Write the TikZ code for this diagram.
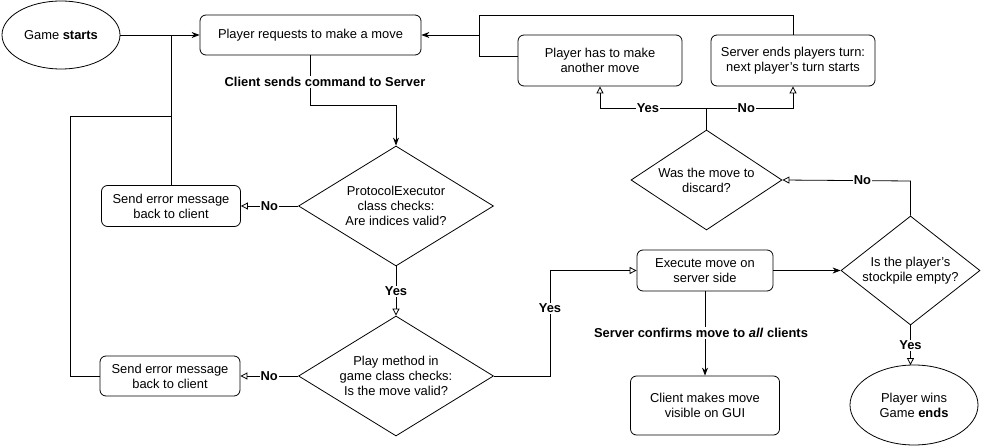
\documentclass[tikz,border=0pt]{standalone}
\usepackage{fontspec}
\setmainfont{Liberation Sans}
\usetikzlibrary{shapes.geometric,arrows.meta,calc}
\begin{document}
\begin{tikzpicture}[x=1pt,y=-1pt,
  every node/.style={font=\fontsize{12.9}{15}\selectfont},
  box/.style={draw, rounded corners=6pt, align=center, inner sep=1pt},
  ell/.style={draw, ellipse, align=center, inner sep=0pt},
  dia/.style={draw, diamond, align=center, inner sep=0pt},
  lbl/.style={fill=white, inner sep=1pt, font=\fontsize{12.9}{15}\selectfont\bfseries},
  fa/.style={-{Stealth[length=8pt,width=6pt]}},
  oa/.style={-{Triangle[open,length=7pt,width=7pt]}},
  line width=0.8pt]
\useasboundingbox (0,0) rectangle (981,446);

\node[ell, minimum width=118pt, minimum height=68pt] (start) at (61,35) {Game \textbf{starts}};
\node[box, minimum width=221pt, minimum height=40pt] (req) at (310.5,35) {Player requests to make a move};
\node[box, minimum width=164pt, minimum height=51pt] (another) at (600,60.5) {Player has to make\\another move};
\node[box, minimum width=164pt, minimum height=51pt] (ends) at (793,60.5) {Server ends players turn:\\next player's turn starts};
\node[dia, aspect=1.625, minimum width=195pt, minimum height=120pt] (d1) at (396,206) {ProtocolExecutor\\class checks:\\Are indices valid?};
\node[box, minimum width=139pt, minimum height=41pt] (err1) at (171,206) {Send error message\\back to client};
\node[dia, aspect=1.625, minimum width=195pt, minimum height=120pt] (d2) at (396,376) {Play method in\\game class checks:\\Is the move valid?};
\node[box, minimum width=140pt, minimum height=40pt] (err2) at (170,376) {Send error message\\back to client};
\node[dia, aspect=1.51, minimum width=151pt, minimum height=100pt] (d4) at (706.5,180) {Was the move to\\discard?};
\node[box, minimum width=136pt, minimum height=41pt] (exec) at (705,270.5) {Execute move on\\server side};
\node[dia, aspect=1.275, minimum width=139pt, minimum height=109pt] (d3) at (910.5,270.5) {Is the player's\\stockpile empty?};
\node[box, minimum width=149pt, minimum height=59pt] (client) at (705,405.5) {Client makes move\\visible on GUI};
\node[ell, minimum width=128pt, minimum height=80pt] (win) at (914,405) {Player wins\\Game \textbf{ends}};

% connectors
\coordinate (j1) at (171,35);
\coordinate (j2) at (171,116);
\coordinate (j3) at (70,116);
\coordinate (j4) at (70,376);
\draw[fa] (start.east) -- (req.west);
\draw (err1.north) -- (j1);
\draw (err2.west) -- (j4) -- (j3) -- (j2);

\coordinate (c1) at (310.5,105);
\coordinate (c2) at (396,105);
\draw[fa] (req.south) -- (c1) -- (c2) -- (d1.north);

\draw[oa] (d1.west) -- node[lbl]{No} (err1.east);
\draw[oa] (d1.south) -- node[lbl]{Yes} (d2.north);
\draw[oa] (d2.west) -- node[lbl]{No} (err2.east);

\coordinate (y1) at (550,376);
\coordinate (y2) at (550,270.5);
\draw[oa] (d2.east) -- (y1) -- node[lbl, pos=0.64]{Yes} (y2) -- (exec.west);

\draw[fa] (exec.east) -- (d3.west);

\coordinate (n1) at (910.5,181);
\draw[oa] (d3.north) -- (n1) -- node[lbl, pos=0.375]{No} (d4.east);

\coordinate (s0) at (706.5,108);
\coordinate (s1) at (600,108);
\coordinate (s2) at (793,108);
\draw[oa] (d4.north) -- (s0) -- node[lbl, pos=0.55]{Yes} (s1) -- (another.south);
\draw[oa] (s0) -- node[lbl, pos=0.46]{No} (s2) -- (ends.south);

\coordinate (a0) at ($(another.west)+(0,-4.5)$);
\coordinate (a1) at (479,56);
\coordinate (a2) at (479,35);
\coordinate (a3) at (793,15);
\coordinate (a4) at (479,15);
\draw[fa] (a0) -- (a1) -- (a2) -- (req.east);
\draw (ends.north) -- (a3) -- (a4) -- (a2);

\draw[fa] (exec.south) -- (client.north);
\coordinate (w0) at ($(d3.south |- win.north)+(0,0.5)$);
\draw[oa] (d3.south) -- node[lbl]{Yes} (w0);

% free labels on lines
\node[lbl] (lclient) at (325,82) {Client sends command to Server};
\node[lbl] (lserver) at (701,333) {Server confirms move to \textit{all} clients};
\end{tikzpicture}
\end{document}
